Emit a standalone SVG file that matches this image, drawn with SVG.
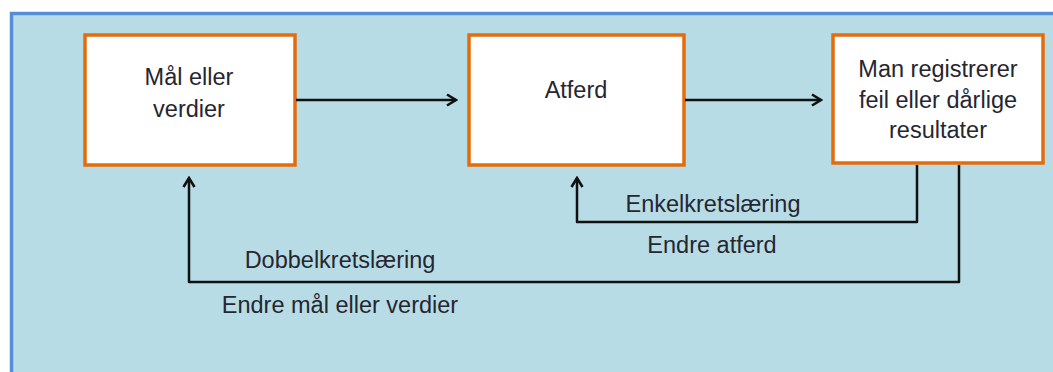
<svg xmlns="http://www.w3.org/2000/svg" width="1053" height="372" viewBox="0 0 1053 372">
<defs>
<style>
.box{fill:#fff;stroke:#E46C0A;stroke-width:3.5}
.t{font-family:"Liberation Sans",Arial,sans-serif;font-size:23.5px;fill:#262630;text-anchor:middle}
.c{fill:none;stroke:#111;stroke-width:2.5;stroke-linejoin:round}
</style>
<marker id="ah" viewBox="0 0 14 14" refX="12" refY="7" markerWidth="14" markerHeight="14" markerUnits="userSpaceOnUse" orient="auto">
<path d="M3,1.5 L12,7 L3,12.5" fill="none" stroke="#111" stroke-width="2.6" stroke-linejoin="miter"/>
</marker>
</defs>
<rect width="1053" height="372" fill="#fff"/>
<rect x="11.5" y="13.5" width="1050" height="370" fill="#B7DCE6" stroke="#558ED5" stroke-width="3.5"/>
<g id="node-goals"><rect class="box" x="85" y="35" width="210" height="130"/><text class="t" x="189" y="85">Mål eller</text><text class="t" x="189" y="117">verdier</text></g>
<g id="node-behaviour"><rect class="box" x="469" y="35" width="215" height="130"/><text class="t" x="576" y="98">Atferd</text></g>
<g id="node-detect"><rect class="box" x="833" y="35" width="210" height="128"/><text class="t" x="938" y="77">Man registrerer</text><text class="t" x="938" y="108">feil eller dårlige</text><text class="t" x="938" y="138">resultater</text></g>
<g id="connectors">
<path class="c" d="M296,100 L456,100" marker-end="url(#ah)"/>
<path class="c" d="M685,100 L821,100" marker-end="url(#ah)"/>
<path class="c" d="M917,165 L917,222 L577,222 L577,178" marker-end="url(#ah)"/>
<path class="c" d="M959,165 L959,282 L189,282 L189,178" marker-end="url(#ah)"/>
<text class="t" x="713" y="212">Enkelkretslæring</text>
<text class="t" x="712" y="253">Endre atferd</text>
<text class="t" x="340" y="268">Dobbelkretslæring</text>
<text class="t" x="340" y="313">Endre mål eller verdier</text>
</g>
</svg>
